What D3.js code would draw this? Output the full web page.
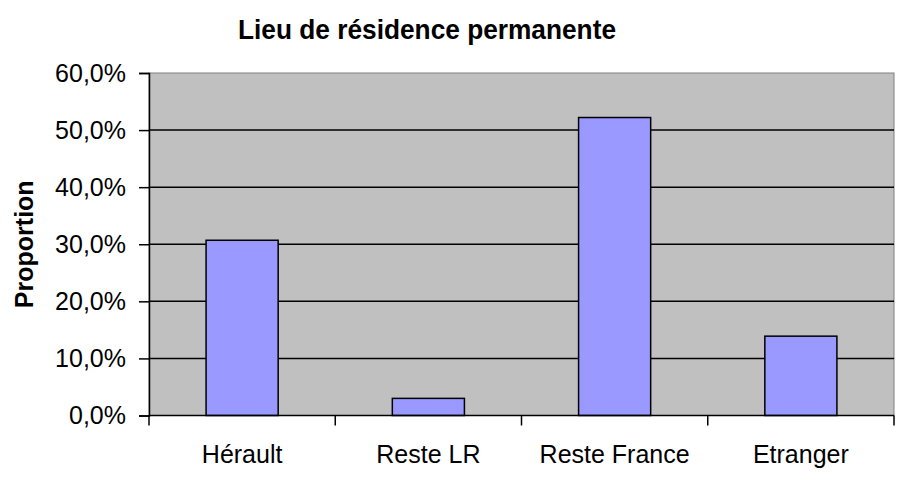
<!DOCTYPE html>
<html>
<head>
<meta charset="utf-8">
<script src="https://cdn.jsdelivr.net/npm/d3@7"></script>
<style>
  body { margin: 0; background: #fff; }
  text { font-family: "Liberation Sans", Arial, sans-serif; fill: #000; }
</style>
</head>
<body>
<svg id="chart" width="901" height="499"></svg>
<script>
// Data
const categories = ["Hérault", "Reste LR", "Reste France", "Etranger"];
const values = [0.307, 0.030, 0.522, 0.139];
const yTicks = [0, 0.1, 0.2, 0.3, 0.4, 0.5, 0.6];

// Layout
let margin = { top: 73, left: 149, right: 7, bottom: 83.5 },
    width = 901 - margin.left - margin.right,
    height = 499 - margin.top - margin.bottom;

let svg = d3.select("#chart");
let g = svg.append("g")
    .attr("transform", "translate(" + margin.left + "," + margin.top + ")");

// Scales
let x = d3.scaleBand()
    .domain(categories)
    .range([0, width])
    .paddingInner(0.613)
    .paddingOuter(0.3065);

let y = d3.scaleLinear()
    .domain([0, 0.6])
    .range([height, 0]);

let fmt = d => d3.format(".1f")(d * 100).replace(".", ",") + "%";

// Plot background
g.append("rect")
    .attr("width", width)
    .attr("height", height)
    .attr("fill", "#c0c0c0")
    .attr("stroke", "#808080")
    .attr("stroke-width", 1);

// Gridlines
g.selectAll(".grid")
    .data(yTicks.filter(d => d > 0 && d < 0.6))
    .enter()
    .append("line")
    .attr("x1", 0)
    .attr("x2", width)
    .attr("y1", d => y(d))
    .attr("y2", d => y(d))
    .attr("stroke", "#000")
    .attr("stroke-width", 1.5);

// Bars
g.selectAll(".bar")
    .data(values)
    .enter()
    .append("rect")
    .attr("x", (d, i) => x(categories[i]))
    .attr("y", d => y(d))
    .attr("width", x.bandwidth())
    .attr("height", d => height - y(d))
    .attr("fill", "#9999ff")
    .attr("stroke", "#000")
    .attr("stroke-width", 1.5);

// Y axis
let yAxis = g.append("g")
    .call(d3.axisLeft(y).tickValues(yTicks).tickFormat(fmt).tickSize(10).tickPadding(13));
yAxis.select(".domain").attr("stroke", "#000").attr("stroke-width", 1.5);
yAxis.selectAll(".tick line").attr("stroke", "#000").attr("stroke-width", 1.5);
yAxis.selectAll(".tick text")
    .style("font-family", "Liberation Sans, Arial, sans-serif")
    .style("font-size", "25px")
    .attr("fill", "#000");

// X axis: labels under bar centres, tick marks at category boundaries
let half = (x.step() - x.bandwidth()) / 2;
let boundaries = categories.map(c => x(c) - half).concat([width]);

g.append("line")
    .attr("x1", 0).attr("x2", width)
    .attr("y1", height).attr("y2", height)
    .attr("stroke", "#000").attr("stroke-width", 1.5);

g.selectAll(".xtick")
    .data(boundaries)
    .enter()
    .append("line")
    .attr("x1", d => d).attr("x2", d => d)
    .attr("y1", height).attr("y2", height + 10)
    .attr("stroke", "#000").attr("stroke-width", 1.5);

g.selectAll(".xlabel")
    .data(categories)
    .enter()
    .append("text")
    .attr("x", d => x(d) + x.bandwidth() / 2)
    .attr("y", height + 47.5)
    .attr("text-anchor", "middle")
    .style("font-size", "25px")
    .text(d => d);

// Y axis title
svg.append("text")
    .attr("transform", "translate(33," + (margin.top + height / 2) + ") rotate(-90)")
    .attr("text-anchor", "middle")
    .style("font-size", "25px")
    .style("font-weight", "bold")
    .text("Proportion");

// Chart title
svg.append("text")
    .attr("x", 427)
    .attr("y", 39)
    .attr("text-anchor", "middle")
    .attr("textLength", 378)
    .attr("lengthAdjust", "spacingAndGlyphs")
    .style("font-size", "27px")
    .style("font-weight", "bold")
    .text("Lieu de résidence permanente");
</script>
</body>
</html>
